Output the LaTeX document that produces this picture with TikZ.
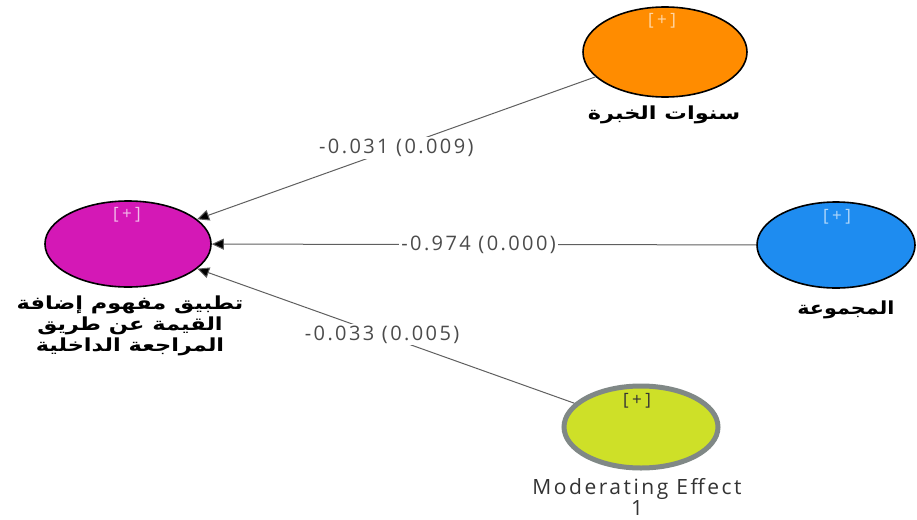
\documentclass[tikz,border=0pt]{standalone}
\usepackage{fontspec}
\usepackage{graphicx}
\usetikzlibrary{shapes.geometric,arrows.meta}
\TeXXeTstate=1
\newfontfamily\arabicfont[Script=Arabic]{DejaVu Sans}
\newfontfamily\uifont[LetterSpace=12]{Open Sans}
\newfontfamily\plusfont[LetterSpace=20]{Open Sans}
% widened right-to-left line
\newcommand{\artxt}[1]{\scalebox{1.25}[1]{\beginR #1\endR}}
\definecolor{corange}{RGB}{255,140,0}
\definecolor{cmagenta}{RGB}{212,24,182}
\definecolor{cblue}{RGB}{30,140,240}
\definecolor{clime}{RGB}{206,224,40}
\definecolor{ringgray}{RGB}{128,136,134}
\definecolor{edgegray}{RGB}{95,95,95}
\definecolor{labelgray}{RGB}{75,75,75}
\begin{document}
\begin{tikzpicture}[x=1pt,y=-1pt,
  construct/.style={ellipse, draw=black, line width=1.6pt, inner sep=0pt},
  plus/.style={font=\plusfont\fontsize{17}{18}\selectfont, inner sep=0pt},
  relation/.style={draw=edgegray, line width=1pt, -{Triangle[length=12pt,width=11pt,fill=black]}},
  coef/.style={fill=white, text=labelgray, inner sep=2pt, font=\uifont\fontsize{20}{21}\selectfont},
  arlabel/.style={font=\arabicfont\bfseries\fontsize{18}{21}\selectfont, align=center, text=black},
  enlabel/.style={font=\uifont\fontsize{21}{17}\selectfont, align=center, text=black!80, inner sep=0pt}
]
\useasboundingbox (0,0) rectangle (917,519);

% latent constructs
\node[construct, fill=cmagenta, minimum width=166pt, minimum height=86pt] (impl) at (128,244) {};
\node[construct, fill=corange, minimum width=164pt, minimum height=90pt] (years) at (665,52) {};
\node[construct, fill=cblue, minimum width=158pt, minimum height=86pt] (group) at (836,245) {};
\node[construct, fill=clime, draw=ringgray, line width=5pt, minimum width=154pt, minimum height=82pt] (mod) at (641,427) {};

% expand markers
\node[plus, text=cmagenta!30!white] (impl-plus) at (127,215) {[+]};
\node[plus, text=corange!35!white] (years-plus) at (662,21) {[+]};
\node[plus, text=cblue!35!white] (group-plus) at (837,217) {[+]};
\node[plus, text=black!80] (mod-plus) at (637,401) {[+]};

% path coefficients
\draw[relation] (years) -- node[coef] (c1) {-0.031 (0.009)} (impl);
\draw[relation] (group) -- node[coef, pos=0.51] (c2) {-0.974 (0.000)} (impl);
\draw[relation] (mod) -- node[coef, pos=0.51] (c3) {-0.033 (0.005)} (impl);

% construct names
\node[arlabel] (years-l) at (664,115) {\artxt{سنوات الخبرة}};
\node[arlabel] (group-l) at (846,310) {\scalebox{1.15}[1]{\beginR المجموعة\endR}};
\node[arlabel] (impl-l) at (130,326) {\artxt{تطبيق مفهوم إضافة}\\ \artxt{القيمة عن طريق}\\ \artxt{المراجعة الداخلية}};
\node[enlabel] (mod-l) at (637,497) {Moderating Effect\\1};
\end{tikzpicture}
\end{document}
